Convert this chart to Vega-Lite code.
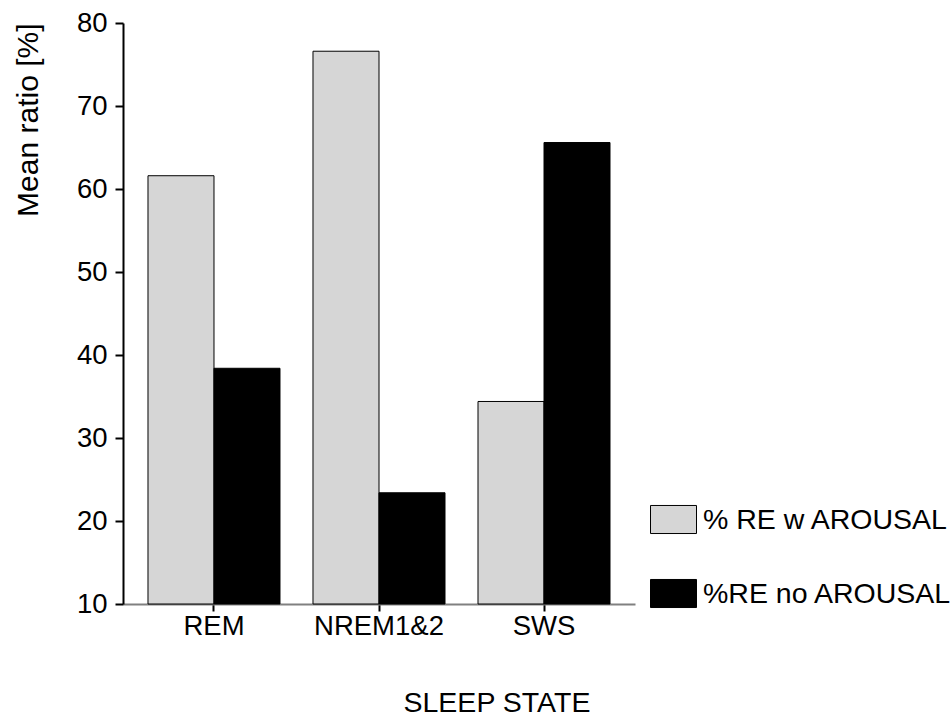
{
  "$schema": "https://vega.github.io/schema/vega-lite/v6.json",
  "autosize": "none",
  "width": 512,
  "height": 581,
  "padding": {"left": 123, "top": 23, "right": 316, "bottom": 113},
  "background": "white",
  "config": {
    "view": {"stroke": null},
    "font": "Liberation Sans"
  },
  "data": {
    "values": [
      {"state": "REM", "series": "% RE w AROUSAL", "ratio": 61.6},
      {"state": "REM", "series": "%RE no AROUSAL", "ratio": 38.4},
      {"state": "NREM1&2", "series": "% RE w AROUSAL", "ratio": 76.6},
      {"state": "NREM1&2", "series": "%RE no AROUSAL", "ratio": 23.4},
      {"state": "SWS", "series": "% RE w AROUSAL", "ratio": 34.4},
      {"state": "SWS", "series": "%RE no AROUSAL", "ratio": 65.6}
    ]
  },
  "mark": {"type": "bar", "stroke": "black", "strokeWidth": 1},
  "encoding": {
    "x": {
      "field": "state",
      "type": "nominal",
      "sort": ["REM", "NREM1&2", "SWS"],
      "scale": {"paddingInner": 0.2, "paddingOuter": 0.1515},
      "axis": {
        "title": "SLEEP STATE",
        "titleFont": "Liberation Sans",
        "titleFontSize": 28.5,
        "titleFontWeight": "normal",
        "titleColor": "black",
        "titleAlign": "left",
        "titleAnchor": null,
        "titleX": 280,
        "titleY": 107,
        "titleBaseline": "alphabetic",
        "labelAngle": 0,
        "labelFontSize": 27.5,
        "labelColor": "black",
        "labelPadding": 1,
        "tickSize": 7,
        "tickWidth": 2,
        "tickColor": "black",
        "domainColor": "#808080",
        "domainWidth": 2
      }
    },
    "xOffset": {
      "field": "series",
      "type": "nominal",
      "sort": ["% RE w AROUSAL", "%RE no AROUSAL"],
      "scale": {"paddingInner": 0, "paddingOuter": 0}
    },
    "y": {
      "field": "ratio",
      "type": "quantitative",
      "scale": {"domain": [10, 80], "nice": false, "zero": false},
      "axis": {
        "title": "Mean ratio [%]",
        "titleFont": "Liberation Sans",
        "titleFontSize": 30,
        "titleFontWeight": "normal",
        "titleColor": "black",
        "titleAngle": -90,
        "titleAlign": "right",
        "titleAnchor": null,
        "titleBaseline": "alphabetic",
        "titleX": -86,
        "titleY": 0,
        "values": [10, 20, 30, 40, 50, 60, 70, 80],
        "grid": false,
        "labelFontSize": 27.5,
        "labelColor": "black",
        "labelPadding": 8,
        "tickSize": 8,
        "tickWidth": 2,
        "tickColor": "black",
        "domainColor": "black",
        "domainWidth": 2
      }
    },
    "y2": {"datum": 10},
    "fill": {
      "field": "series",
      "type": "nominal",
      "sort": ["% RE w AROUSAL", "%RE no AROUSAL"],
      "scale": {"domain": ["% RE w AROUSAL", "%RE no AROUSAL"], "range": ["#d6d6d6", "black"]},
      "legend": {
        "title": null,
        "orient": "none",
        "legendX": 527,
        "legendY": 473,
        "padding": 0,
        "symbolType": "M-1,-0.61H1V0.61H-1Z",
        "symbolSize": 2116,
        "symbolStrokeColor": "black",
        "symbolStrokeWidth": 1,
        "symbolOpacity": 1,
        "labelFontSize": 28.5,
        "labelColor": "black",
        "labelOffset": 6,
        "labelLimit": 400,
        "rowPadding": 34
      }
    }
  }
}
